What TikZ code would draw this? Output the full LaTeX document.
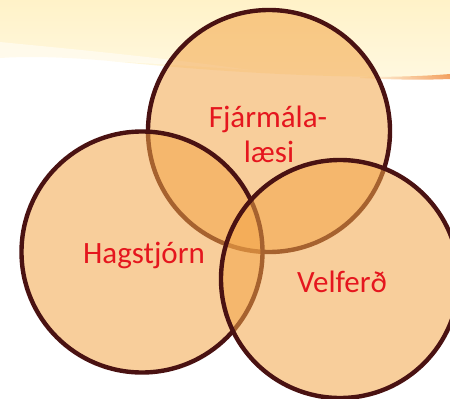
\documentclass[tikz,border=0pt]{standalone}
\usepackage{fontspec}
\setmainfont{Carlito}
\usetikzlibrary{shadings}
\definecolor{ringline}{HTML}{4A1212}
\definecolor{ringfill}{HTML}{F3A548}
\definecolor{labelred}{HTML}{E5161E}
\definecolor{bandtop}{HTML}{FFF2C8}
\definecolor{bandlow}{HTML}{FFF8E0}
\definecolor{swoosh}{HTML}{F08A3C}
\begin{document}
\begin{tikzpicture}[x=1pt,y=-1pt,
  ring/.style={circle, minimum size=#1, inner sep=0pt, draw=ringline, line width=4.4pt,
    fill=ringfill, fill opacity=0.55, draw opacity=1},
  lbl/.style={text=labelred, font=\fontsize{31}{35}\selectfont, align=center, inner sep=0pt, anchor=base}]
\useasboundingbox (0,0) rectangle (450,399);
\begin{scope}
\clip (0,0) rectangle (450,399);
% background band
\shade[top color=bandtop, bottom color=bandlow, draw=none]
  (0,0) -- (450,0) -- (450,76) .. controls (330,80) and (200,70) .. (120,62)
  .. controls (70,57) and (30,56) .. (0,58) -- cycle;
\fill[white, opacity=0.5] (0,42) .. controls (60,48) and (150,56) .. (250,70)
  .. controls (150,63) and (60,58) .. (0,58) -- cycle;
\shade[left color=bandlow, right color=swoosh, draw=none, opacity=0.8]
  (360,77) .. controls (400,77) and (425,76) .. (450,74) -- (450,79)
  .. controls (425,80) and (400,80) .. (360,78) -- cycle;
% circles
\node[ring=242pt] (top) at (269,131) {};
\node[ring=241pt] (left) at (142,252) {};
\node[ring=238pt] (right) at (340,279) {};
\end{scope}
\node[lbl] (tf) at (268,127) {Fjármála-};
\node[lbl] (tl) at (269,162) {læsi};
\node[lbl] (th) at (144,263) {Hagstjórn};
\node[lbl] (tv) at (342,292) {Velferð};
\end{tikzpicture}
\end{document}
